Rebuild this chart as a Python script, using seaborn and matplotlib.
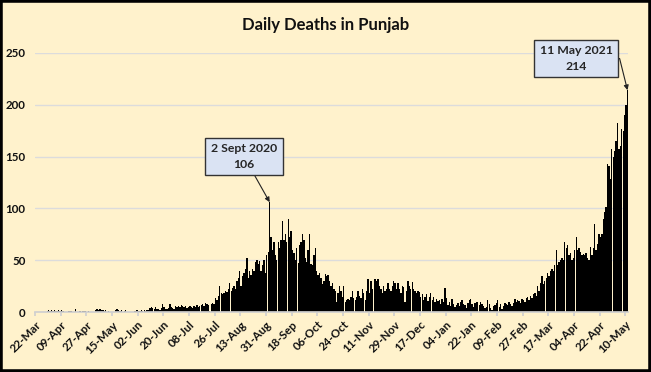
import seaborn as sns
import pandas as pd
import matplotlib.pyplot as plt
from matplotlib.patches import Rectangle

# Mortes diárias por mês (22-Mar-2020 a 11-May-2021)
mar20 = [0, 0, 0, 0, 0, 0, 0, 0, 1, 2]
apr20 = [1, 2, 1, 2, 1, 1, 2, 1, 2, 1, 0, 0, 0, 1, 1, 1, 0, 0, 3, 0,
         0, 1, 0, 1, 1, 1, 0, 1, 0, 0]
may20 = [0, 0, 2, 3, 2, 3, 2, 2, 1, 2, 0, 1, 0, 0, 0, 0, 2, 3, 2, 1,
         2, 0, 1, 2, 0, 0, 0, 0, 0, 1, 1]
jun20 = [2, 1, 1, 2, 1, 2, 1, 2, 2, 4, 5, 4, 3, 5, 3, 3, 2, 4, 8, 5,
         3, 3, 4, 8, 5, 4, 3, 6, 5, 6]
jul20 = [5, 7, 6, 5, 6, 4, 5, 6, 5, 4, 6, 5, 7, 5, 6, 7, 8, 6, 9, 8,
         7, 1, 8, 9, 8, 14, 12, 16, 25, 18, 17]
aug20 = [18, 20, 19, 22, 28, 20, 23, 25, 22, 30, 33, 40, 25, 35, 38, 42, 52, 33, 40, 36,
         42, 40, 48, 50, 46, 49, 40, 45, 50, 38, 55]
sep20 = [58, 106, 72, 60, 68, 55, 50, 68, 62, 70, 88, 70, 75, 68, 90, 72, 78, 60, 57, 50,
         62, 47, 65, 68, 75, 70, 52, 48, 60, 75]
oct20 = [46, 45, 55, 62, 40, 36, 38, 33, 27, 30, 37, 35, 36, 30, 25, 28, 22, 20, 10, 18,
         25, 20, 15, 25, 10, 12, 13, 12, 15, 20, 14]
nov20 = [12, 15, 20, 16, 14, 22, 18, 12, 20, 32, 18, 30, 22, 0, 32, 30, 32, 25, 22, 18,
         25, 20, 22, 28, 22, 20, 25, 30, 28, 22]
dec20 = [28, 22, 18, 25, 24, 10, 20, 30, 25, 22, 29, 22, 20, 18, 20, 19, 15, 17, 12, 15,
         17, 11, 15, 18, 12, 15, 10, 13, 11, 12, 8]
jan21 = [13, 10, 23, 14, 7, 10, 6, 13, 8, 5, 7, 9, 6, 10, 12, 8, 7, 4, 9, 12,
         13, 8, 5, 9, 10, 10, 7, 10, 8, 6, 4]
feb21 = [5, 12, 8, 4, 2, 6, 7, 9, 12, 5, 8, 3, 6, 9, 8, 7, 10, 8, 6, 9,
         13, 10, 12, 11, 9, 13, 12, 10]
mar21 = [14, 15, 12, 16, 14, 17, 18, 16, 25, 20, 28, 35, 27, 30, 33, 38, 35, 40, 42, 40,
         45, 60, 45, 48, 50, 52, 50, 68, 62, 65, 55]
apr21 = [57, 50, 52, 60, 72, 60, 62, 58, 55, 56, 55, 57, 52, 50, 63, 55, 62, 85, 60, 66,
         75, 72, 75, 90, 97, 101, 143, 141, 128, 157]
may21 = [150, 155, 165, 182, 157, 160, 177, 175, 190, 200, 214]

tick_labels = ['22-Mar', '09-Apr', '27-Apr', '15-May', '02-Jun', '20-Jun', '08-Jul',
               '26-Jul', '13-Aug', '31-Aug', '18-Sep', '06-Oct', '24-Oct', '11-Nov',
               '29-Nov', '17-Dec', '04-Jan', '22-Jan', '09-Feb', '27-Feb', '17-Mar',
               '04-Apr', '22-Apr', '10-May']

mortes = (mar20 + apr20 + may20 + jun20 + jul20 + aug20 + sep20 + oct20 + nov20
          + dec20 + jan21 + feb21 + mar21 + apr21 + may21)
datas = pd.date_range('2020-03-22', '2021-05-11')
df = pd.DataFrame({'data': datas[:len(mortes)], 'mortes': mortes})
df['dia'] = range(len(df))

bg = '#FFF2CC'
sns.set_theme(style="white")
plt.rcParams['font.family'] = ['Lato', 'DejaVu Sans']

fig = plt.figure(figsize=(6.51, 3.72), dpi=100, facecolor=bg)
ax = fig.add_axes([0.054, 0.161, 0.911, 0.697])
ax.set_facecolor(bg)

sns.barplot(data=df, x='dia', y='mortes', color='black', width=0.95,
            saturation=1, linewidth=0, ax=ax)

ax.set_xlim(-0.5, len(df) - 0.5)
ax.set_ylim(0, 250)
ax.set_yticks([0, 50, 100, 150, 200, 250])
ax.yaxis.grid(True, color='#DCDCDC', linewidth=1)
ax.set_axisbelow(True)

pos = [i * 18 - 0.5 for i in range(len(tick_labels))]
ax.set_xticks(pos)
ax.set_xticklabels(tick_labels, rotation=45, ha='right', rotation_mode='anchor',
                   fontsize=8.3, fontweight='bold', color='#111111')
for lab in ax.get_yticklabels():
    lab.set_fontsize(8.3)
    lab.set_fontweight('bold')
    lab.set_color('#111111')
ax.tick_params(axis='x', bottom=True, length=3, color='#D0D0D0', pad=2)
ax.tick_params(axis='y', length=0, pad=7)

for s in ['top', 'right', 'left']:
    ax.spines[s].set_visible(False)
ax.spines['bottom'].set_color('#D0D0D0')

ax.set_xlabel('')
ax.set_ylabel('')
fig.text(0.5, 0.932, 'Daily Deaths in Punjab', ha='center', va='center',
         fontsize=12, fontweight='bold', color='#111111')

box = dict(boxstyle='square,pad=0.45', facecolor='#DAE3F3', edgecolor='#333333', linewidth=1)
ax.annotate('2 Sept 2020\n106', xy=(164, 106), xytext=(146, 150),
            ha='center', va='center', fontsize=8.8, fontweight='bold',
            linespacing=1.5, bbox=box, annotation_clip=False,
            arrowprops=dict(arrowstyle='-|>', color='#222222', lw=0.8,
                            mutation_scale=7, shrinkA=0, shrinkB=0))
ax.annotate('11 May 2021\n214', xy=(415, 214), xytext=(379, 244.5),
            ha='center', va='center', fontsize=8.8, fontweight='bold',
            linespacing=1.5, bbox=box, annotation_clip=False,
            arrowprops=dict(arrowstyle='-|>', color='#222222', lw=0.8,
                            mutation_scale=7, shrinkA=0, shrinkB=0,
                            connectionstyle='angle,angleA=0,angleB=104,rad=0'))

fig.patches.append(Rectangle((0, 0), 1, 1, transform=fig.transFigure,
                             fill=False, edgecolor='black', linewidth=4))

plt.savefig('out.png', dpi=100, facecolor=bg)
